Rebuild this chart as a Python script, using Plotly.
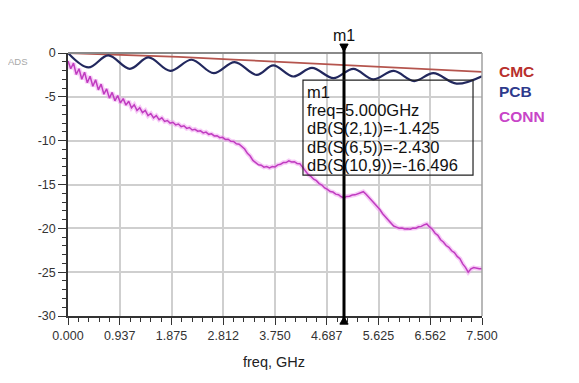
import numpy as np
import plotly.graph_objects as go

# ---------------- data ----------------
x_tick_vals = [0, 0.9375, 1.875, 2.8125, 3.75, 4.6875, 5.625, 6.5625, 7.5]
x_tick_text = ["0.000", "0.937", "1.875", "2.812", "3.750", "4.687", "5.625", "6.562", "7.500"]
y_tick_vals = [0, -5, -10, -15, -20, -25, -30]

# CMC  dB(S(2,1))
cmc_freq = [0, 1, 2, 3, 4, 5, 6, 7, 7.5]
cmc_db = [0, -0.2, -0.45, -0.75, -1.07, -1.425, -1.75, -2.02, -2.15]

# PCB  dB(S(6,5)) - ripple extrema
pcb_freq = [0, 0.37, 0.73, 1.12, 1.46, 1.85, 2.24, 2.64, 3.02, 3.42, 3.72, 4.08,
            4.42, 4.81, 5.17, 5.53, 5.9, 6.27, 6.62, 7.04, 7.5]
pcb_db = [0, -1.65, -0.27, -1.8, -0.5, -2.03, -0.77, -2.3, -1.03, -2.5, -1.42, -2.68,
          -1.7, -2.87, -1.8, -3.0, -2.05, -3.2, -2.3, -3.5, -2.65]

# CONN dB(S(10,9)) - sampled every 0.05 GHz from 0 to 7.5
conn_freq = np.linspace(0, 7.5, 151)
conn_db = [
    -0.9, -1.8, -1.15, -2.45, -1.8, -3.0, -2.2, -3.4, -2.65, -3.8,
    -3.05, -4.2, -3.55, -4.7, -4.1, -5.15, -4.5, -5.45, -4.85, -5.7,
    -5.2, -5.95, -5.5, -6.25, -5.9, -6.55, -6.25, -6.8, -6.55, -7.15,
    -6.9, -7.4, -7.15, -7.6, -7.4, -7.8, -7.7, -8.0, -7.9, -8.2,
    -8.1, -8.4, -8.3, -8.6, -8.5, -8.78, -8.7, -8.92, -8.88, -9.12,
    -9.02, -9.28, -9.22, -9.46, -9.44, -9.66, -9.62, -9.86, -9.84, -10.08,
    -10.1, -10.36, -10.4, -10.66, -10.95, -11.45, -11.75, -12.25, -12.45, -12.75,
    -12.8, -13.02, -12.96, -13.1, -12.96, -13.0, -12.76, -12.7, -12.5, -12.5,
    -12.3, -12.44, -12.4, -12.6, -12.62, -13.05, -13.36, -13.85, -14.06, -14.4,
    -14.56, -14.9, -15.06, -15.4, -15.56, -15.8, -15.86, -16.1, -16.16, -16.4,
    -16.5, -16.36, -16.34, -16.2, -16.18, -16.06, -15.98, -15.82, -16.12, -16.46,
    -16.9, -17.16, -17.6, -17.86, -18.34, -18.66, -19.1, -19.36, -19.74, -19.86,
    -19.99, -19.96, -20.08, -20.06, -20.1, -19.96, -19.98, -19.82, -19.78, -19.6,
    -19.5, -19.84, -20.1, -20.56, -20.8, -21.3, -21.56, -21.96, -22.16, -22.56,
    -22.76, -23.2, -23.46, -24.05, -24.45, -25.0, -24.62, -24.48, -24.56, -24.6,
    -24.62,
]

marker_freq = 5.0
marker_lines = ["m1", "freq=5.000GHz", "dB(S(2,1))=-1.425", "dB(S(6,5))=-2.430", "dB(S(10,9))=-16.496"]
legend_names = ["CMC", "PCB", "CONN"]
legend_colors = ["#b8302c", "#2e3a8c", "#c845c8"]

FONT = "Liberation Sans, Arial, sans-serif"

fig = go.Figure()
fig.add_trace(go.Scatter(x=cmc_freq, y=cmc_db, mode="lines",
                         line=dict(color="#b5554e", width=1.8), showlegend=False))
fig.add_trace(go.Scatter(x=conn_freq, y=conn_db, mode="lines",
                         line=dict(color="rgba(240,160,240,0.55)", width=4.5), showlegend=False))
fig.add_trace(go.Scatter(x=conn_freq, y=conn_db, mode="lines",
                         line=dict(color="#c03cc0", width=1.5), showlegend=False))
fig.add_trace(go.Scatter(x=pcb_freq, y=pcb_db, mode="lines",
                         line=dict(color="#22285e", width=2.2, shape="spline", smoothing=1.0),
                         showlegend=False))

axis_common = dict(
    showline=True, linecolor="#333333", linewidth=1.5,
    ticks="outside", tickcolor="#333333", tickwidth=1.2,
    showgrid=True, gridcolor="#cfcfcf", gridwidth=1.5,
    zeroline=False,
    tickfont=dict(family=FONT, size=12.5, color="#333333"),
)

fig.update_xaxes(range=[0, 7.5], tickmode="array", tickvals=x_tick_vals, ticktext=x_tick_text,
                 ticklen=7,
                 minor=dict(tickmode="linear", tick0=0, dtick=0.1875, ticks="outside",
                            ticklen=4, tickcolor="#333333", showgrid=False),
                 **axis_common)
fig.update_yaxes(range=[-30, 0], tickmode="array", tickvals=y_tick_vals,
                 ticktext=[str(v) for v in y_tick_vals], ticklen=8,
                 minor=dict(tickmode="linear", tick0=0, dtick=1, ticks="outside",
                            ticklen=4, tickcolor="#333333", showgrid=False),
                 **axis_common)

shapes = [
    dict(type="line", xref="paper", yref="paper", x0=0, x1=1, y0=1, y1=1,
         line=dict(color="#8a8a8a", width=2)),
    dict(type="line", xref="paper", yref="paper", x0=1, x1=1, y0=0, y1=1,
         line=dict(color="#a0a0a0", width=1.5)),
    # marker line
    dict(type="line", xref="x", yref="paper", x0=marker_freq, x1=marker_freq, y0=-0.028, y1=1.032,
         line=dict(color="black", width=3)),
    # top triangle
    dict(type="path", xref="x", yref="paper",
         path=f"M {marker_freq-0.075},1.034 L {marker_freq+0.075},1.034 L {marker_freq},1.005 Z",
         fillcolor="black", line=dict(color="black", width=1)),
    # bottom triangle
    dict(type="path", xref="x", yref="paper",
         path=f"M {marker_freq-0.075},-0.031 L {marker_freq+0.075},-0.031 L {marker_freq},-0.003 Z",
         fillcolor="black", line=dict(color="black", width=1)),
    # marker readout box
    dict(type="rect", xref="paper", yref="paper", x0=0.5676, x1=0.9783, y0=0.536, y1=0.897,
         line=dict(color="#222222", width=1.2), fillcolor="rgba(0,0,0,0)"),
]

annotations = []
line_y = [0.853, 0.783, 0.714, 0.644, 0.574]
for txt, yy in zip(marker_lines, line_y):
    annotations.append(dict(text=txt, xref="paper", yref="paper", x=0.5725, y=yy,
                            xanchor="left", yanchor="middle", showarrow=False,
                            font=dict(family=FONT, size=16.5, color="#111111")))
annotations.append(dict(text="m1", xref="x", yref="paper", x=marker_freq, y=1.065,
                        xanchor="center", yanchor="middle", showarrow=False,
                        font=dict(family=FONT, size=16, color="#111111")))
leg_y = [0.928, 0.853, 0.758]
for name, col, yy in zip(legend_names, legend_colors, leg_y):
    annotations.append(dict(text=f"<b>{name}</b>", xref="paper", yref="paper", x=1.036, y=yy,
                            xanchor="left", yanchor="middle", showarrow=False,
                            font=dict(family=FONT, size=15.5, color=col)))
annotations.append(dict(text="ADS", xref="paper", yref="paper", x=-0.121, y=0.966,
                        xanchor="center", yanchor="middle", showarrow=False,
                        font=dict(family=FONT, size=9.5, color="#a8a8a8")))
annotations.append(dict(text="freq, GHz", xref="paper", yref="paper", x=0.498, y=-0.175,
                        xanchor="center", yanchor="middle", showarrow=False,
                        font=dict(family=FONT, size=14.5, color="#222222")))

# page body adds an 8px offset, so the figure is sized/placed to compensate
fig.update_layout(
    width=571, height=375,
    margin=dict(l=60, r=97, t=45, b=67),
    paper_bgcolor="white", plot_bgcolor="white",
    shapes=shapes, annotations=annotations,
    showlegend=False,
)

fig.write_html("out.html")
